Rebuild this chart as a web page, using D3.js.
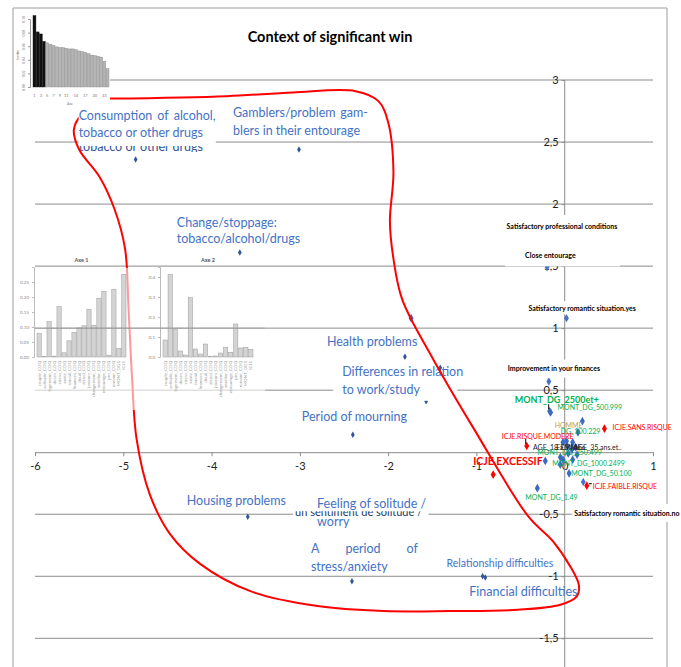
<!DOCTYPE html>
<html>
<head>
<meta charset="utf-8">
<script src="https://cdn.jsdelivr.net/npm/d3@7"></script>
<style>
  body { margin: 0; background: #fff; }
  svg { display: block; }
  text { font-family: "Liberation Sans Narrow", Lato, sans-serif; }
</style>
</head>
<body>
<svg id="chart"></svg>
<script>
const width = 681
const height = 667

// Scree plot (inertia of each axis)
const screeValues = [0.105, 0.081, 0.078, 0.067, 0.065, 0.063, 0.061, 0.059, 0.058, 0.058, 0.057, 0.056,
    0.056, 0.055, 0.053, 0.052, 0.051, 0.049, 0.047, 0.046, 0.045, 0.044, 0.038, 0.027]
const screeTicks = [0, 0.02, 0.04, 0.06, 0.08, 0.10]
const screeAxisLabels = [1, 3, 5, 7, 9, 11, 14, 17, 20, 23]

// Contributions of the variables to axis 1 and axis 2
const contribVars = ["couple_CDQ", "solitude_CDQ", "logement_CDQ", "deces_CDQ", "stress_CDQ", "sante_CDQ",
    "travail_CDQ", "finances_CDQ", "deuil_CDQ", "alcool_CDQ", "joueurs_CDQ", "changement_CDQ",
    "amelior_CDQ", "entourage_CDQ", "pro_CDQ", "romant_CDQ", "MONT_DG1", "ICJE"]
const contribAxe1 = [0.079, 0.002, 0.118, 0.003, 0.168, 0.014, 0.054, 0.082, 0.097, 0.104, 0.159, 0.106,
    0.196, 0.219, 0.006, 0.226, 0.029, 0.276]
const contribAxe2 = [0.085, 0.413, 0.140, 0.030, 0.010, 0.297, 0.040, 0.015, 0.065, 0.002, 0.005, 0.020,
    0.047, 0.023, 0.165, 0.045, 0.048, 0.038]
const axe1Ticks = [0, 0.05, 0.10, 0.15, 0.20, 0.25]
const axe2Ticks = [0, 0.1, 0.2, 0.3, 0.4]

// Factor map ticks
const xTicks = [-6, -5, -4, -3, -2, -1, 0, 1]
const yTicks = [-1.5, -1, -0.5, 0, 0.5, 1, 1.5, 2, 2.5, 3]

// Contexts of the significant win (blue)
const contextNames = ["Consumption of alcohol, tobacco or other drugs", "Gamblers/problem gamblers in their entourage",
    "Change/stoppage: tobacco/alcohol/drugs", "Health problems", "Differences in relation to work/study",
    "Period of mourning", "Housing problems", "Feeling of solitude / worry", "A period of stress/anxiety",
    "Relationship difficulties", "Financial difficulties"]
const contextX = [-4.86, -3.01, -3.68, -1.81, -1.41, -2.40, -3.59, -1.57, -2.41, -0.93, -0.90]
const contextY = [2.36, 2.44, 1.61, 0.77, 0.68, 0.14, -0.52, 0.41, -1.04, -1.00, -1.01]

// Supplementary situations (black)
const suppNames = ["Satisfactory professional conditions", "Close entourage", "Satisfactory romantic situation.yes",
    "Improvement in your finances", "Satisfactory romantic situation.no"]
const suppX = [-0.33, -0.20, 0.02, -0.18, 0.21]
const suppY = [1.71, 1.49, 1.08, 0.57, -0.24]

// Amount of the win (green)
const amountNames = ["MONT_DG_2500et+", "MONT_DG_500.999", "MONT_DG_100.229", "MONT_DG_250.499",
    "MONT_DG_1000.2499", "MONT_DG_50.100", "MONT_DG_1.49"]
const amountX = [-0.17, -0.16, 0.02, -0.05, -0.22, 0.05, -0.31]
const amountY = [0.33, 0.32, 0.09, -0.04, -0.07, -0.17, -0.29]

// Gambling risk index (red)
const riskNames = ["ICJE.SANS.RISQUE", "ICJE.RISQUE.MODERE", "ICJE.EXCESSIF", "ICJE.FAIBLE.RISQUE"]
const riskX = [0.45, -0.43, -0.81, 0.25]
const riskY = [0.19, 0.05, -0.18, -0.27]

// Profile modalities
const profileNames = ["HOMME", "FEMME", "AGE_18.a.34.ans", "AGE_35.ans.et.."]
const profileX = [0.09, 0.03, -0.02, 0.12]
const profileY = [0.08, 0.05, 0.08, 0.04]

// Unlabelled modalities
const otherX = [0.08, 0.04, -0.02, -0.05, 0.14, 0.09, 0.15, 0.20, -1.74]
const otherY = [0.02, -0.01, -0.06, -0.10, -0.02, -0.06, 0.16, 0.25, 1.08]

// Hand drawn loop around the contexts
const loopX = [-5.29, -5.47, -5.56, -5.50, -5.27, -5.10, -4.98, -4.94, -4.90, -4.85, -4.70, -4.47, -4.13,
    -3.56, -2.80, -2.05, -1.29, -0.53, -0.05, 0.14, 0.16, 0.07, -0.13, -0.41, -1.03, -1.49, -1.84, -1.94,
    -1.98, -1.94, -2.00, -2.11, -2.37, -3.08, -3.83, -5.15]
const loopY = [2.79, 2.72, 2.60, 2.44, 2.22, 1.96, 1.64, 1.15, 0.59, 0.11, -0.34, -0.66, -0.90,
    -1.12, -1.24, -1.28, -1.28, -1.27, -1.23, -1.16, -1.07, -0.93, -0.72, -0.52, 0.19, 0.75, 1.23, 1.56,
    1.86, 2.26, 2.66, 2.83, 2.91, 2.90, 2.87, 2.85]

// Label layout: offsets from the point, in pixels
const labelLayout = {
    "Consumption of alcohol, tobacco or other drugs": { lines: ["Consumption of alcohol,", "tobacco or other drugs"], dx: -57, dy: [-39, -22], justify: 137, box: [0, 0, 8, 5] },
    "Gamblers/problem gamblers in their entourage": { lines: ["Gamblers/problem gam-", "blers in their entourage"], dx: -66, dy: [-32, -14], justify: 135 },
    "Change/stoppage: tobacco/alcohol/drugs": { lines: ["Change/stoppage:", "tobacco/alcohol/drugs"], dx: -63, dy: [-25, -9] },
    "Health problems": { lines: ["Health problems"], dx: -78, dy: [-11] },
    "Differences in relation to work/study": { lines: ["Differences in relation", "to work/study"], dx: -98, dy: [8, 26], box: [9, -6, -14, 4] },
    "Period of mourning": { lines: ["Period of mourning"], dx: -51, dy: [-14] },
    "Housing problems": { lines: ["Housing problems"], dx: -61, dy: [-12] },
    "Feeling of solitude / worry": { lines: ["Feeling of solitude /", "worry"], dx: -109, dy: [107, 125], box: [24, 2, 1, 3] },
    "A period of stress/anxiety": { lines: ["A period of", "stress/anxiety"], dx: -41, dy: [-28, -10], justify: 107 },
    "Relationship difficulties": { lines: ["Relationship difficulties"], dx: -36, dy: [-9], size: 10.5 },
    "Financial difficulties": { lines: ["Financial difficulties"], dx: -16, dy: [18] },
    "Satisfactory professional conditions": { dx: -29, dy: -11, box: [2, 2, 7, 10] },
    "Close entourage": { dx: -22, dy: -9, box: [20, 44, 12, 7] },
    "Satisfactory romantic situation.yes": { dx: -38, dy: -7, box: [2, 2, 3, 2] },
    "Improvement in your finances": { dx: -41, dy: -10, box: [2, 2, 5, 5] },
    "Satisfactory romantic situation.no": { dx: -9, dy: 34, box: [2, 20, 5, 5] },
    "MONT_DG_2500et+": { dx: -35, dy: -8, bold: true, size: 9, leader: true },
    "MONT_DG_500.999": { dx: 7, dy: -2 },
    "MONT_DG_100.229": { dx: -9, dy: -7, text: "_DG_100.229" },
    "MONT_DG_250.499": { dx: -23, dy: -2 },
    "MONT_DG_1000.2499": { dx: 7, dy: 5 },
    "MONT_DG_50.100": { dx: 2, dy: 3 },
    "MONT_DG_1.49": { dx: -12, dy: 12 },
    "ICJE.SANS.RISQUE": { dx: 8, dy: 1 },
    "ICJE.RISQUE.MODERE": { dx: -25, dy: -7, leader: true },
    "ICJE.EXCESSIF": { dx: -20, dy: -10, bold: true, size: 10.5 },
    "ICJE.FAIBLE.RISQUE": { dx: 6, dy: 3, leader: true },
    "HOMME": { dx: -18, dy: -14 },
    "FEMME": { dx: -11, dy: 4 },
    "AGE_18.a.34.ans": { dx: -30, dy: 8 },
    "AGE_35.ans.et..": { dx: -2, dy: 3 }
}

const blueText = "#4472c4"
const green = "#00b050"
const red = "#ff0000"
const gridColor = "#8c8c8c"

const svg = d3.select("#chart")
    .attr("width", width)
    .attr("height", height)

const x = d3.scaleLinear().domain([-6, 1]).range([35, 653])
const y = d3.scaleLinear().domain([-1.5, 3]).range([638.3, 80])

const locale = d3.formatLocale({ decimal: ",", thousands: " ", grouping: [3], currency: ["", " €"], minus: "-" })
const fmt = locale.format("~g")

// Frame
svg.append("path")
    .attr("d", `M13,${height}V8H667V${height}`)
    .attr("fill", "none")
    .attr("stroke", "#9a9a9a")

// Gridlines
svg.append("g")
    .selectAll("line")
    .data(yTicks.filter(v => v !== 0))
    .enter()
    .append("line")
    .attr("x1", x(-6))
    .attr("x2", x(1))
    .attr("y1", d => y(d))
    .attr("y2", d => y(d))
    .attr("stroke", gridColor)

// Axes
const xAxis = svg.append("g")
    .attr("transform", `translate(0,${y(0)})`)
    .call(d3.axisBottom(x).tickValues(xTicks).tickSize(4).tickSizeOuter(0).tickPadding(6).tickFormat(fmt))
const yAxis = svg.append("g")
    .attr("transform", `translate(${x(0)},0)`)
    .call(d3.axisLeft(y).tickValues(yTicks.filter(v => v !== 0)).tickSize(3).tickSizeOuter(0).tickPadding(3).tickFormat(fmt))
yAxis.select(".domain").attr("d", `M0,${y(3)}V${height}`)
for (const ax of [xAxis, yAxis]) {
    ax.selectAll(".domain, .tick line").attr("stroke", gridColor)
    ax.selectAll(".tick text").attr("font-size", 11).attr("fill", "#222")
        .style("font-family", "Lato, sans-serif")
}

// Points
const diamond = size => d3.symbol(d3.symbolDiamond).size(size)
const pointLayer = svg.append("g")

function addPoints(names, xs, ys, color, size) {
    pointLayer.append("g")
        .selectAll("path")
        .data(xs.map((v, i) => ({ x: v, y: ys[i] })))
        .enter()
        .append("path")
        .attr("transform", d => `translate(${x(d.x)},${y(d.y)})`)
        .attr("d", diamond(size)())
        .attr("fill", color)
}
addPoints(contextNames, contextX, contextY, "#2f5597", 12)
addPoints(suppNames, suppX, suppY, "#4472c4", 20)
addPoints(amountNames, amountX, amountY, "#3b6bbf", 22)
addPoints(profileNames, profileX, profileY, "#3b6bbf", 22)
addPoints([], otherX, otherY, "#3b6bbf", 22)
addPoints(riskNames, riskX, riskY, red, 22)

// Labels
const boxLayer = svg.append("g")
const labelLayer = svg.append("g")
const lateBoxLayer = svg.append("g")
const lateLabelLayer = svg.append("g")

function justifyLine(textSel, words, x0, y0, w) {
    const spans = words.map(word => textSel.append("tspan").attr("y", y0).text(word))
    const widths = spans.map(s => s.node().getComputedTextLength())
    const gap = (w - d3.sum(widths)) / (words.length - 1)
    let cx = x0
    spans.forEach((s, i) => { s.attr("x", cx); cx += widths[i] + gap })
}

function addBox(layer, node, pad) {
    const b = node.getBBox()
    layer.insert("rect", ":first-child")
        .attr("x", b.x - pad[0])
        .attr("y", b.y - pad[2])
        .attr("width", b.width + pad[0] + pad[1])
        .attr("height", b.height + pad[2] + pad[3])
        .attr("fill", "#fff")
}

function addLabels(names, xs, ys, color, defaults) {
    names.forEach((name, i) => {
        const lay = Object.assign({}, defaults, labelLayout[name])
        const px = x(xs[i])
        const py = y(ys[i])
        const late = name.startsWith("Consumption")
        const layer = late ? lateLabelLayer : labelLayer
        const g = layer.append("g")
        const t = g.append("text")
            .attr("fill", color)
            .attr("font-size", lay.size)
            .attr("font-weight", lay.bold ? "bold" : "normal")
            .style("font-family", lay.family)
        const lines = lay.lines || [lay.text || name]
        const dys = Array.isArray(lay.dy) ? lay.dy : [lay.dy]
        lines.forEach((line, j) => {
            if (j === 0 && lay.justify) {
                justifyLine(t, line.split(" "), px + lay.dx, py + dys[j], lay.justify)
            } else {
                t.append("tspan").attr("x", px + lay.dx).attr("y", py + dys[j]).text(line)
            }
        })
        if (lay.box) addBox(late ? lateBoxLayer : boxLayer, t.node(), lay.box)
        if (lay.leader) {
            g.append("line")
                .attr("x1", px + (lay.dx > 0 ? 2 : -1)).attr("y1", py - 2)
                .attr("x2", px + (lay.dx > 0 ? lay.dx - 1 : -1)).attr("y2", py - (lay.dx > 0 ? 2 : 7))
                .attr("stroke", "#000").attr("stroke-width", 1)
        }
    })
}

// Fragments of hidden duplicated texts (drawn under the label boxes)
const dupLayer = svg.append("g")
svg.node().insertBefore(dupLayer.node(), boxLayer.node())
dupLayer.append("clipPath").attr("id", "clipDup1")
    .append("rect").attr("x", 0).attr("y", 146).attr("width", width).attr("height", 6)
dupLayer.append("text")
    .attr("clip-path", "url(#clipDup1)")
    .attr("x", x(contextX[0]) - 57).attr("y", 151)
    .attr("font-size", 12.5).attr("fill", "#2f5597")
    .style("font-family", "Lato, sans-serif")
    .text("tobacco or other drugs")
dupLayer.append("clipPath").attr("id", "clipDup2")
    .append("rect").attr("x", 0).attr("y", y(-0.5) - 3).attr("width", width).attr("height", 6)
dupLayer.append("text")
    .attr("clip-path", "url(#clipDup2)")
    .attr("x", x(contextX[7]) - 131).attr("y", y(-0.5) + 2)
    .attr("font-size", 11).attr("fill", "#203864")
    .style("font-family", "Lato, sans-serif")
    .text("un sentiment de solitude /")

addLabels(contextNames, contextX, contextY, blueText, { size: 12.5, family: "Lato, sans-serif" })
addLabels(suppNames, suppX, suppY, "#000", { size: 7, bold: true, family: "Lato, sans-serif" })
addLabels(amountNames, amountX, amountY, green, { size: 7 })
addLabels(riskNames, riskX, riskY, red, { size: 7 })
addLabels(profileNames, profileX, profileY, "#222", { size: 7 })
labelLayer.selectAll("text").filter(function () { return d3.select(this).text() === "HOMME" }).attr("fill", "#b3a06a")

// The dup fragment of "un sentiment" sits on top of the solitude box
svg.node().appendChild(dupLayer.node().lastChild)

// Hand drawn loop
const loop = d3.line()
    .x(d => x(d[0]))
    .y(d => y(d[1]))
    .curve(d3.curveCatmullRom.alpha(0.5))
svg.append("path")
    .attr("d", loop(loopX.map((v, i) => [v, loopY[i]])))
    .attr("fill", "none")
    .attr("stroke", red)
    .attr("stroke-width", 2)

svg.node().appendChild(lateBoxLayer.node())
svg.node().appendChild(lateLabelLayer.node())

// Contribution insets (Axe 1, Axe 2)
svg.append("rect")
    .attr("x", 15).attr("y", 268).attr("width", 250).attr("height", 142)
    .attr("fill", "#fff").attr("opacity", 0.6)

function contribPanel(values, ticks, xRange, yMax, title, tickFmt) {
    const g = svg.append("g")
    const bx = d3.scaleBand().domain(contribVars).range(xRange).paddingInner(0.15)
    const by = d3.scaleLinear().domain([0, yMax]).range([357, 267])
    g.selectAll("rect")
        .data(values)
        .enter()
        .append("rect")
        .attr("x", (d, i) => bx(contribVars[i]))
        .attr("y", d => by(d))
        .attr("width", bx.bandwidth())
        .attr("height", d => by(0) - by(d))
        .attr("fill", "#d4d4d4")
        .attr("stroke", "#9a9a9a")
        .attr("stroke-width", 0.5)
    const ax = g.append("g")
        .attr("transform", `translate(${xRange[0] - 3},0)`)
        .call(d3.axisLeft(by).tickValues(ticks).tickSize(2).tickFormat(d3.format(tickFmt)))
    ax.select(".domain").attr("stroke", "#bbb")
    ax.selectAll(".tick line").attr("stroke", "#bbb")
    ax.selectAll(".tick text").attr("font-size", 4.5).attr("fill", "#888")
    g.selectAll(".varlabel")
        .data(contribVars)
        .enter()
        .append("text")
        .attr("transform", d => `translate(${bx(d) + bx.bandwidth() / 2 + 1.5},361) rotate(-90)`)
        .attr("text-anchor", "end")
        .attr("font-size", 4.5)
        .attr("fill", "#999")
        .text(d => d)
    g.append("text")
        .attr("x", (xRange[0] + xRange[1]) / 2)
        .attr("y", 262)
        .attr("text-anchor", "middle")
        .attr("font-size", 5.5)
        .attr("font-weight", "bold")
        .attr("fill", "#555")
        .text(title)
}
contribPanel(contribAxe1, axe1Ticks, [37, 126], 0.30, "Axe 1", ".2f")
contribPanel(contribAxe2, axe2Ticks, [163, 253], 0.45, "Axe 2", ".1f")

svg.append("line")
    .attr("x1", x(-6)).attr("x2", 265)
    .attr("y1", y(1)).attr("y2", y(1))
    .attr("stroke", gridColor)

// Scree inset
const scree = svg.append("g")
scree.append("rect").attr("x", 14).attr("y", 9).attr("width", 96).attr("height", 97).attr("fill", "#fff")
const sx = d3.scaleBand().domain(d3.range(1, screeValues.length + 1)).range([33, 109]).paddingInner(0.08)
const sy = d3.scaleLinear().domain([0, 0.10]).range([87, 19])
scree.selectAll(".bar")
    .data(screeValues)
    .enter()
    .append("rect")
    .attr("x", (d, i) => sx(i + 1))
    .attr("y", d => sy(d))
    .attr("width", sx.bandwidth())
    .attr("height", d => sy(0) - sy(d))
    .attr("fill", (d, i) => i < 4 ? "#111" : "#b4b4b4")
    .attr("stroke", (d, i) => i < 4 ? "#111" : "#8a8a8a")
    .attr("stroke-width", 0.4)
const sAxis = scree.append("g")
    .attr("transform", "translate(30,0)")
    .call(d3.axisLeft(sy).tickValues(screeTicks).tickSize(2).tickFormat(d3.format(".2f")))
sAxis.selectAll(".domain, .tick line").attr("stroke", "#999")
sAxis.selectAll(".tick text")
    .attr("font-size", 3.5).attr("fill", "#777")
    .attr("transform", "rotate(-90)").attr("x", 0).attr("y", -5).attr("text-anchor", "middle").attr("dy", 0)
scree.selectAll(".slab")
    .data(screeAxisLabels)
    .enter()
    .append("text")
    .attr("x", d => sx(d) + sx.bandwidth() / 2)
    .attr("y", 97)
    .attr("text-anchor", "middle")
    .attr("font-size", 4)
    .attr("fill", "#777")
    .text(d => d)
scree.append("text").attr("x", 70).attr("y", 105).attr("text-anchor", "middle")
    .attr("font-size", 3.5).attr("fill", "#777").text("Axe")
scree.append("text").attr("transform", "translate(19,55) rotate(-90)").attr("text-anchor", "middle")
    .attr("font-size", 3.5).attr("fill", "#777").text("Inertie")

// Title
svg.append("text")
    .attr("x", 330)
    .attr("y", 42)
    .attr("text-anchor", "middle")
    .attr("font-size", 14.5)
    .attr("font-weight", "bold")
    .style("font-family", "Lato, sans-serif")
    .text("Context of significant win")
</script>
</body>
</html>
